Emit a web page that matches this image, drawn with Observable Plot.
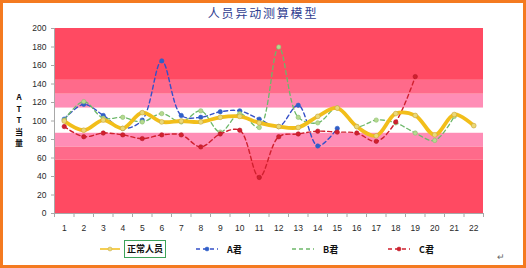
<!DOCTYPE html>
<html><head><meta charset="utf-8">
<script src="https://cdn.jsdelivr.net/npm/d3@7"></script>
<script src="https://cdn.jsdelivr.net/npm/@observablehq/plot@0.6"></script>
<style>
body{margin:0;background:#fff;}
#wrap{position:relative;width:526px;height:268px;overflow:hidden;background:#fff;font-family:"Noto Sans CJK SC","Liberation Sans",sans-serif;}
#border{position:absolute;left:0;top:0;width:526px;height:268px;box-sizing:border-box;border:3px solid #F47A20;z-index:5;}
#chart{position:absolute;left:0;top:0;}
#title{position:absolute;left:0;top:5px;width:526px;text-align:center;font-size:12px;letter-spacing:1.8px;color:#2E3C8F;line-height:16px;}
#ytitle{position:absolute;left:13px;top:91px;width:12px;text-align:center;font-size:8px;font-weight:bold;line-height:11.5px;color:#111;}
.leg{position:absolute;top:241px;height:16px;display:flex;align-items:center;font-size:9px;font-weight:bold;color:#111;}
.leg svg{display:block;margin-right:4px;}
#ret{position:absolute;left:497px;top:250px;font-size:9px;color:#666;}
</style></head><body>
<div id="wrap">
  <div id="border"></div>
  <div id="chart"></div>
  <div id="title">人员异动测算模型</div>
  <div id="ytitle">A<br>T<br>T<br>当<br>量</div>
  <div id="legend"></div>
  <div id="ret">↵</div>
</div>
<script>
// ---- data ----
const categories = ["1","2","3","4","5","6","7","8","9","10","11","12","13","14","15","16","17","18","19","20","21","22"];
const seriesNames = ["正常人员", "A君", "B君", "C君"];
const normalStaff = [100, 90, 101, 92, 109, 99, 100, 99, 104, 105, 98, 94, 93, 105, 114, 94, 84, 108, 106, 85, 107, 95];
const aJun = [102, 118, 106, 92, 101, 165, 106, 104, 110, 111, 102, 94, 117, 73, 92];
const bJun = [101, 121, 103, 104, 99, 108, 99, 111, 88, 108, 93, 180, 104, 98, 114, 94, 101, 98, 87, 79, 105];
const cJun = [94, 83, 87, 85, 81, 85, 85, 72, 86, 90, 39, 83, 86, 89, 88, 87, 78, 99, 148];
const bandEdges = [0, 58, 72, 87, 114, 129, 144, 200];
const yTicks = [0, 20, 40, 60, 80, 100, 120, 140, 160, 180, 200];

// ---- styles ----
const bandFills = ["#FF4A62", "#FF6A8A", "#FF8DB6", "#FFFFFF", "#FF8DB6", "#FF6A8A", "#FF4A62"];
const styles = [
  {stroke: "#F2BE1A", width: 3.8, dash: null, dotFill: "#EBD978", dotStroke: "#C9A640"},
  {stroke: "#3550C8", width: 1.4, dash: "4,3", dotFill: "#2F5FC8", dotStroke: "#2F5FC8"},
  {stroke: "#6DB86A", width: 1.3, dash: "4,3", dotFill: "#B5D98F", dotStroke: "#8CC070"},
  {stroke: "#D0202E", width: 1.4, dash: "4,3", dotFill: "#D0202E", dotStroke: "#B81A28"}
];

const allSeries = [normalStaff, aJun, bJun, cJun];
const rows = allSeries.map(vals => vals.map((v, i) => ({x: +categories[i], y: v})));
const bands = bandEdges.slice(0, -1).map((lo, i) => ({lo, hi: bandEdges[i + 1], i}));
const boundaries = [0.5, ...categories.map(c => +c + 0.5)];

const lineMarks = [];
[1, 2, 3, 0].forEach(k => {
  const s = styles[k];
  lineMarks.push(Plot.line(rows[k], {x: "x", y: "y", stroke: s.stroke, strokeWidth: s.width,
    strokeDasharray: s.dash || undefined, curve: "catmull-rom", strokeLinecap: "round"}));
  lineMarks.push(Plot.dot(rows[k], {x: "x", y: "y", r: k === 0 ? 2.4 : 2.2, fill: s.dotFill, stroke: s.dotStroke, strokeWidth: 0.6}));
});

const chart = Plot.plot({
  width: 526, height: 240,
  marginTop: 28, marginBottom: 27, marginLeft: 54, marginRight: 43,
  x: {type: "linear", domain: [0.5, 22.5]},
  y: {domain: [0, 200]},
  style: {fontFamily: "'Liberation Sans', Arial, sans-serif", fontSize: "8.5px", color: "#333", background: "transparent"},
  marks: [
    Plot.rectY(bands, {y1: "lo", y2: "hi", fill: d => bandFills[d.i]}),
    ...lineMarks,
    Plot.ruleX([0.5], {stroke: "#A8A8A8", strokeWidth: 1}),
    Plot.ruleY([0], {stroke: "#A8A8A8", strokeWidth: 1}),
    Plot.axisY({ticks: yTicks, tickSize: 3, tickPadding: 5, stroke: "#A8A8A8", label: null, fill: "#2a2a2a"}),
    Plot.axisX({ticks: boundaries, tickSize: 4, tickFormat: () => "", stroke: "#A8A8A8", label: null}),
    Plot.axisX({ticks: categories.map(Number), tickSize: 0, tickPadding: 11, tickFormat: d => String(d), label: null, fill: "#2a2a2a"})
  ]
});
document.getElementById("chart").appendChild(chart);

// ---- legend ----
const legendX = [100, 196, 292, 388];
const legend = document.getElementById("legend");
seriesNames.forEach((name, k) => {
  const s = styles[k];
  const div = document.createElement("div");
  div.className = "leg";
  div.style.left = legendX[k] + "px";
  const w = k === 0 ? 20 : 22;
  const dashAttr = s.dash ? `stroke-dasharray="${s.dash}"` : "";
  const dot = k === 2 ? "" : `<circle cx="${w/2}" cy="8" r="2" fill="${s.dotFill}" stroke="${s.dotStroke}" stroke-width="0.5"/>`;
  div.innerHTML = `<svg width="${w}" height="16"><line x1="0" y1="8" x2="${w}" y2="8" stroke="${s.stroke}" stroke-width="${k===0?1.5:1.4}" ${dashAttr}/>${dot}</svg>` +
    (k === 0 ? `<span style="border:1.5px solid #3DA35A;padding:2px 2px;line-height:12px">${name}</span>` : `<span style="margin-left:5px">${name}</span>`);
  legend.appendChild(div);
});
</script>
</body></html>
